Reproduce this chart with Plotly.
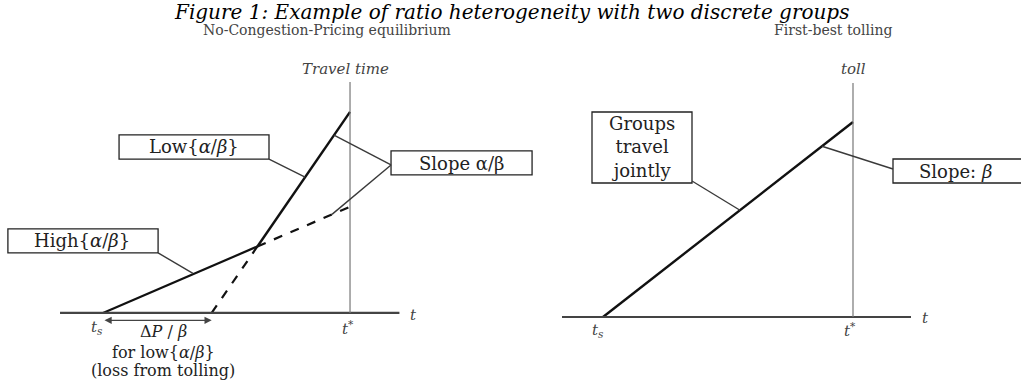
import plotly.graph_objects as go

# ---- data (time on x, cost on y; t_s = 0, t* = 10) ----
t_star = 10
ts = 0

# left panel: No-Congestion-Pricing equilibrium
high_solid_t = [0, 6.25]
high_solid_y = [0, 2.69]
high_dash_t = [6.25, 10]
high_dash_y = [2.69, 4.3]
low_dash_t = [4.4, 6.25]
low_dash_y = [0, 2.69]
low_solid_t = [6.25, 10]
low_solid_y = [2.69, 8.14]

# right panel: first-best tolling
toll_t = [0, 10]
toll_y = [0, 7.8]

SERIF = "DejaVu Serif, Liberation Serif, serif"
INK = "#111111"
LEAD = "#3a3a3a"

fig = go.Figure()

# left panel lines
fig.add_trace(go.Scatter(x=high_solid_t, y=high_solid_y, mode="lines",
                         line=dict(color=INK, width=2.2), xaxis="x", yaxis="y"))
fig.add_trace(go.Scatter(x=high_dash_t, y=high_dash_y, mode="lines",
                         line=dict(color=INK, width=2.2, dash="dash"), xaxis="x", yaxis="y"))
fig.add_trace(go.Scatter(x=low_dash_t, y=low_dash_y, mode="lines",
                         line=dict(color=INK, width=2.2, dash="dash"), xaxis="x", yaxis="y"))
fig.add_trace(go.Scatter(x=low_solid_t, y=low_solid_y, mode="lines",
                         line=dict(color=INK, width=2.4), xaxis="x", yaxis="y"))

# right panel line
fig.add_trace(go.Scatter(x=toll_t, y=toll_y, mode="lines",
                         line=dict(color=INK, width=2.4), xaxis="x2", yaxis="y2"))

shapes = []
# axes drawn by hand (t axis and t* vertical)
shapes.append(dict(type="line", xref="x", yref="y", x0=-1.74, x1=12.0, y0=0, y1=0,
                   line=dict(color="#444", width=2.2)))
shapes.append(dict(type="line", xref="x", yref="y", x0=t_star, x1=t_star, y0=0, y1=9.35,
                   line=dict(color="#777", width=1.2)))
shapes.append(dict(type="line", xref="x2", yref="y2", x0=-1.64, x1=12.32, y0=0, y1=0,
                   line=dict(color="#444", width=2.2)))
shapes.append(dict(type="line", xref="x2", yref="y2", x0=t_star, x1=t_star, y0=0, y1=9.36,
                   line=dict(color="#777", width=1.2)))

# label boxes
def box(xr, yr, x0, x1, y0, y1):
    return dict(type="rect", xref=xr, yref=yr, x0=x0, x1=x1, y0=y0, y1=y1,
                line=dict(color="#222", width=1.3), fillcolor="white", layer="above")

shapes.append(box("x", "y", 0.65, 6.72, 6.23, 7.21))       # Low
shapes.append(box("x", "y", 11.66, 17.37, 5.59, 6.56))     # Slope a/b
shapes.append(box("x", "y", -3.85, 2.23, 2.43, 3.4))       # High
shapes.append(box("x2", "y2", -0.44, 3.56, 5.36, 8.2))     # Groups
shapes.append(box("x2", "y2", 11.6, 17.5, 5.36, 6.32))     # Slope: beta

# leader lines
def lead(xr, yr, x0, y0, x1, y1):
    return dict(type="line", xref=xr, yref=yr, x0=x0, y0=y0, x1=x1, y1=y1,
                line=dict(color=LEAD, width=1.4))

shapes.append(lead("x", "y", 6.72, 6.23, 8.18, 5.50))
shapes.append(lead("x", "y", 11.66, 5.99, 9.35, 7.2))
shapes.append(lead("x", "y", 11.66, 5.99, 9.27, 3.99))
shapes.append(lead("x", "y", 2.23, 2.43, 3.64, 1.6))
shapes.append(lead("x2", "y2", 3.56, 5.44, 5.48, 4.27))
shapes.append(lead("x2", "y2", 11.6, 5.92, 8.76, 6.83))

annotations = []

def txt(text, x, y, xr="x", yr="y", size=15, color="#222", italic=False):
    if italic:
        text = "<i>" + text + "</i>"
    annotations.append(dict(text=text, x=x, y=y, xref=xr, yref=yr, showarrow=False,
                            xanchor="center", yanchor="middle",
                            font=dict(family=SERIF, size=size, color=color)))

def ptxt(text, px, py, size, color, italic=False):
    if italic:
        text = "<i>" + text + "</i>"
    annotations.append(dict(text=text, x=px / 1021, y=1 - py / 387, xref="paper", yref="paper",
                            showarrow=False, xanchor="center", yanchor="middle",
                            font=dict(family=SERIF, size=size, color=color)))

# titles
ptxt("Figure 1: Example of ratio heterogeneity with two discrete groups", 511, 12, 20, "#000", italic=True)
ptxt("No-Congestion-Pricing equilibrium", 327, 30, 14, "#444")
ptxt("First-best tolling", 833, 30, 14, "#444")

# left panel text
txt("Travel time", 9.8, 9.88, size=15, color="#444", italic=True)
txt("t", 12.55, -0.1, size=15, color="#444", italic=True)
txt("t<sup>*</sup>", 9.9, -0.6, size=15, color="#444", italic=True)
txt("t<sub>s</sub>", -0.24, -0.6, size=15, color="#444", italic=True)
txt("\u0394<i>P</i> / <i>\u03b2</i>", 2.43, -0.77, size=16)
txt("for low{<i>\u03b1</i>/<i>\u03b2</i>}", 2.43, -1.6, size=16)
txt("(loss from tolling)", 2.43, -2.35, size=16)
txt("Low{<i>\u03b1</i>/<i>\u03b2</i>}", 3.68, 6.72, size=18)
txt("Slope \u03b1/\u03b2", 14.5, 6.07, size=18)
txt("High{<i>\u03b1</i>/<i>\u03b2</i>}", -0.85, 2.92, size=18)

# double arrow for Delta P / beta
annotations.append(dict(x=4.4, y=-0.3, ax=ts, ay=-0.3, xref="x", yref="y", axref="x", ayref="y",
                        text="", showarrow=True, arrowhead=2, arrowside="end+start",
                        arrowsize=1.2, arrowwidth=1.2, arrowcolor="#444"))

# right panel text
txt("toll", 10, 9.92, xr="x2", yr="y2", size=15, color="#444", italic=True)
txt("t", 12.88, -0.05, xr="x2", yr="y2", size=15, color="#444", italic=True)
txt("t<sup>*</sup>", 9.88, -0.5, xr="x2", yr="y2", size=15, color="#444", italic=True)
txt("t<sub>s</sub>", -0.2, -0.55, xr="x2", yr="y2", size=15, color="#444", italic=True)
txt("Groups<br>travel<br>jointly", 1.56, 6.8, xr="x2", yr="y2", size=18)
txt("Slope: <i>\u03b2</i>", 14.1, 5.84, xr="x2", yr="y2", size=18)

hidden = dict(visible=False, showgrid=False, zeroline=False, fixedrange=True)

fig.update_layout(
    width=1021, height=387,
    margin=dict(l=0, r=0, t=0, b=0),
    paper_bgcolor="white", plot_bgcolor="rgba(0,0,0,0)",
    showlegend=False,
    xaxis=dict(domain=[0, 0.6], range=[-4.17, 20.63], **hidden),
    yaxis=dict(domain=[0, 1], range=[-3.0, 12.67], **hidden),
    xaxis2=dict(domain=[0.5, 1], range=[-3.7, 16.72], anchor="y2", **hidden),
    yaxis2=dict(domain=[0, 1], range=[-2.8, 12.68], anchor="x2", **hidden),
    shapes=shapes,
    annotations=annotations,
)

fig.write_html("out.html", config={"displayModeBar": False},
               post_script="document.body.style.margin='0';")
